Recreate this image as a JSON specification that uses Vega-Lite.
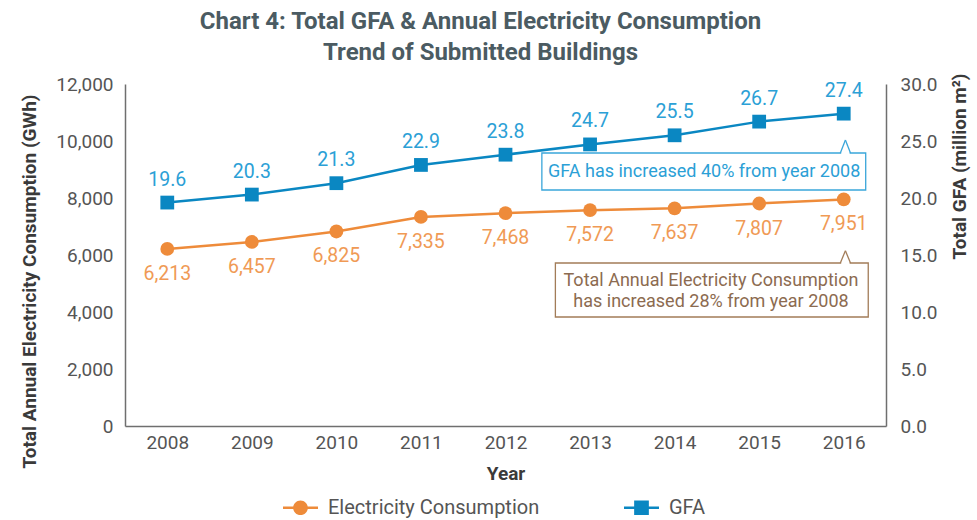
{
  "$schema": "https://vega.github.io/schema/vega-lite/v6.json",
  "width": 761,
  "height": 342,
  "autosize": {"type": "none"},
  "padding": {"left": 125, "top": 84, "right": 91, "bottom": 94},
  "background": "white",
  "config": {
    "font": "Roboto",
    "view": {"stroke": null},
    "axis": {"grid": false, "ticks": false, "domainColor": "#6f6f6f", "domainWidth": 1.5, "labelFontSize": 19, "labelColor": "#555555", "titleFontSize": 19, "titleFontWeight": "bold", "titleColor": "#3a3a3a"}
  },
  "title": {
    "text": ["Chart 4: Total GFA & Annual Electricity Consumption", "Trend of Submitted Buildings"],
    "fontSize": 24,
    "fontWeight": "bold",
    "color": "#4b5b62",
    "lineHeight": 31,
    "anchor": "middle",
    "dx": -25,
    "offset": 8
  },
  "datasets": {
    "series": [
      {"Year": 2008, "Series": "Electricity Consumption", "Value": 6213},
      {"Year": 2009, "Series": "Electricity Consumption", "Value": 6457},
      {"Year": 2010, "Series": "Electricity Consumption", "Value": 6825},
      {"Year": 2011, "Series": "Electricity Consumption", "Value": 7335},
      {"Year": 2012, "Series": "Electricity Consumption", "Value": 7468},
      {"Year": 2013, "Series": "Electricity Consumption", "Value": 7572},
      {"Year": 2014, "Series": "Electricity Consumption", "Value": 7637},
      {"Year": 2015, "Series": "Electricity Consumption", "Value": 7807},
      {"Year": 2016, "Series": "Electricity Consumption", "Value": 7951},
      {"Year": 2008, "Series": "GFA", "Value": 19.6},
      {"Year": 2009, "Series": "GFA", "Value": 20.3},
      {"Year": 2010, "Series": "GFA", "Value": 21.3},
      {"Year": 2011, "Series": "GFA", "Value": 22.9},
      {"Year": 2012, "Series": "GFA", "Value": 23.8},
      {"Year": 2013, "Series": "GFA", "Value": 24.7},
      {"Year": 2014, "Series": "GFA", "Value": 25.5},
      {"Year": 2015, "Series": "GFA", "Value": 26.7},
      {"Year": 2016, "Series": "GFA", "Value": 27.4}
    ],
    "one": [{"a": 1}]
  },
  "layer": [
    {
      "layer": [
        {
          "data": {"name": "series"},
          "transform": [{"filter": "datum.Series === 'Electricity Consumption'"}],
          "mark": {"type": "line", "strokeWidth": 2.5, "color": "#ee8b3a"},
          "encoding": {
            "x": {"field": "Year", "type": "quantitative", "scale": {"domain": [2007.5, 2016.5], "nice": false, "zero": false}, "axis": {"values": [2008, 2009, 2010, 2011, 2012, 2013, 2014, 2015, 2016], "format": "d", "title": "Year", "labelPadding": 7, "titlePadding": 12, "labelFlush": false}},
            "y": {"field": "Value", "type": "quantitative", "scale": {"domain": [0, 12000], "nice": false}, "axis": {"values": [0, 2000, 4000, 6000, 8000, 10000, 12000], "format": ",.0f", "title": "Total Annual Electricity Consumption (GWh)", "labelPadding": 12, "titlePadding": 16, "titleY": 197}}
          }
        },
        {
          "data": {"name": "series"},
          "transform": [{"filter": "datum.Series === 'Electricity Consumption'"}],
          "mark": {"type": "point", "shape": "circle", "filled": true, "opacity": 1, "size": 190, "color": "#ee8b3a"},
          "encoding": {
            "x": {"field": "Year", "type": "quantitative"},
            "y": {"field": "Value", "type": "quantitative"}
          }
        },
        {
          "data": {"name": "series"},
          "transform": [{"filter": "datum.Series === 'Electricity Consumption'"}],
          "mark": {"type": "point", "filled": true, "opacity": 0},
          "encoding": {
            "x": {"field": "Year", "type": "quantitative"},
            "y": {"field": "Value", "type": "quantitative"},
            "color": {
              "field": "Series",
              "type": "nominal",
              "scale": {"domain": ["Electricity Consumption", "GFA"], "range": ["#ee8b3a", "#0a87c2"]},
              "legend": {
                "orient": "none",
                "legendX": 158,
                "legendY": 406,
                "direction": "horizontal",
                "title": null,
                "labelFontSize": 20,
                "labelColor": "#555555",
                "labelLimit": 400,
                "symbolSize": 1225,
                "symbolOpacity": 1,
                "symbolStrokeWidth": 0,
                "columnPadding": 84,
                "labelOffset": 10
              }
            },
            "shape": {
              "field": "Series",
              "type": "nominal",
              "scale": {"domain": ["Electricity Consumption", "GFA"], "range": ["M-1,-0.065H-0.38V0.065H-1ZM0.38,-0.065H1V0.065H0.38ZM0.42,0A0.42,0.42 0 1 1 -0.42,0A0.42,0.42 0 1 1 0.42,0Z", "M-1,-0.065H-0.4V0.065H-1ZM0.4,-0.065H1V0.065H0.4ZM-0.42,-0.42H0.42V0.42H-0.42Z"]},
              "legend": {
                "orient": "none",
                "legendX": 158,
                "legendY": 406,
                "direction": "horizontal",
                "title": null,
                "labelFontSize": 20,
                "labelColor": "#555555",
                "labelLimit": 400,
                "symbolSize": 1225,
                "symbolOpacity": 1,
                "symbolStrokeWidth": 0,
                "columnPadding": 84,
                "labelOffset": 10
              }
            }
          }
        },
        {
          "data": {"name": "series"},
          "transform": [{"filter": "datum.Series === 'Electricity Consumption'"}],
          "mark": {"type": "text", "dy": 25, "fontSize": 19.5, "color": "#f09a55"},
          "encoding": {
            "x": {"field": "Year", "type": "quantitative"},
            "y": {"field": "Value", "type": "quantitative"},
            "text": {"field": "Value", "type": "quantitative", "format": ","}
          }
        },
        {
          "data": {"name": "one"},
          "mark": {"type": "rect", "fill": "white", "stroke": "#3aa6da", "strokeWidth": 1.3},
          "encoding": {"x": {"datum": 2012.43}, "x2": {"datum": 2016.26}, "y": {"datum": 9579}, "y2": {"datum": 8281}}
        },
        {
          "data": {"name": "one"},
          "mark": {"type": "rule", "stroke": "white", "strokeWidth": 3},
          "encoding": {"x": {"datum": 2015.97}, "x2": {"datum": 2016.07}, "y": {"datum": 9579}, "y2": {"datum": 9579}}
        },
        {
          "data": {"name": "one"},
          "mark": {"type": "rule", "stroke": "#3aa6da", "strokeWidth": 1.3},
          "encoding": {"x": {"datum": 2015.96}, "x2": {"datum": 2016.02}, "y": {"datum": 9579}, "y2": {"datum": 10035}}
        },
        {
          "data": {"name": "one"},
          "mark": {"type": "rule", "stroke": "#3aa6da", "strokeWidth": 1.3},
          "encoding": {"x": {"datum": 2016.02}, "x2": {"datum": 2016.08}, "y": {"datum": 10035}, "y2": {"datum": 9579}}
        },
        {
          "data": {"name": "one"},
          "mark": {"type": "text", "text": "GFA has increased 40% from year 2008", "fontSize": 18, "color": "#2ba0d6", "baseline": "middle"},
          "encoding": {"x": {"datum": 2014.35}, "y": {"datum": 8912}}
        },
        {
          "data": {"name": "one"},
          "mark": {"type": "rect", "fill": "white", "stroke": "#a27c58", "strokeWidth": 1.3},
          "encoding": {"x": {"datum": 2012.59}, "x2": {"datum": 2016.29}, "y": {"datum": 5719}, "y2": {"datum": 3825}}
        },
        {
          "data": {"name": "one"},
          "mark": {"type": "rule", "stroke": "white", "strokeWidth": 3},
          "encoding": {"x": {"datum": 2015.97}, "x2": {"datum": 2016.07}, "y": {"datum": 5719}, "y2": {"datum": 5719}}
        },
        {
          "data": {"name": "one"},
          "mark": {"type": "rule", "stroke": "#a27c58", "strokeWidth": 1.3},
          "encoding": {"x": {"datum": 2015.96}, "x2": {"datum": 2016.02}, "y": {"datum": 5719}, "y2": {"datum": 6151}}
        },
        {
          "data": {"name": "one"},
          "mark": {"type": "rule", "stroke": "#a27c58", "strokeWidth": 1.3},
          "encoding": {"x": {"datum": 2016.02}, "x2": {"datum": 2016.08}, "y": {"datum": 6151}, "y2": {"datum": 5719}}
        },
        {
          "data": {"name": "one"},
          "mark": {"type": "text", "text": ["Total Annual Electricity Consumption", "has increased 28% from year 2008"], "fontSize": 18, "lineHeight": 21, "color": "#8c6b50", "baseline": "middle"},
          "encoding": {"x": {"datum": 2014.43}, "y": {"datum": 5088}}
        }
      ]
    },
    {
      "data": {"name": "series"},
      "transform": [{"filter": "datum.Series === 'GFA'"}],
      "layer": [
        {
          "mark": {"type": "line", "strokeWidth": 2.5, "color": "#0a87c2"},
          "encoding": {
            "x": {"field": "Year", "type": "quantitative"},
            "y": {"field": "Value", "type": "quantitative", "scale": {"domain": [0, 30], "nice": false}, "axis": {"orient": "right", "values": [0, 5, 10, 15, 20, 25, 30], "format": ".1f", "title": "Total GFA (million m²)", "labelPadding": 14, "titlePadding": 13, "titleAngle": 270, "titleAnchor": "end", "titleY": -11, "titleAlign": "right", "titleBaseline": "top"}}
          }
        },
        {
          "mark": {"type": "point", "shape": "square", "filled": true, "opacity": 1, "size": 190, "color": "#0a87c2"},
          "encoding": {
            "x": {"field": "Year", "type": "quantitative"},
            "y": {"field": "Value", "type": "quantitative"}
          }
        },
        {
          "mark": {"type": "text", "dy": -23, "fontSize": 19.5, "color": "#2ba0d6"},
          "encoding": {
            "x": {"field": "Year", "type": "quantitative"},
            "y": {"field": "Value", "type": "quantitative"},
            "text": {"field": "Value", "type": "quantitative", "format": ".1f"}
          }
        }
      ]
    }
  ],
  "resolve": {"scale": {"y": "independent"}}
}
